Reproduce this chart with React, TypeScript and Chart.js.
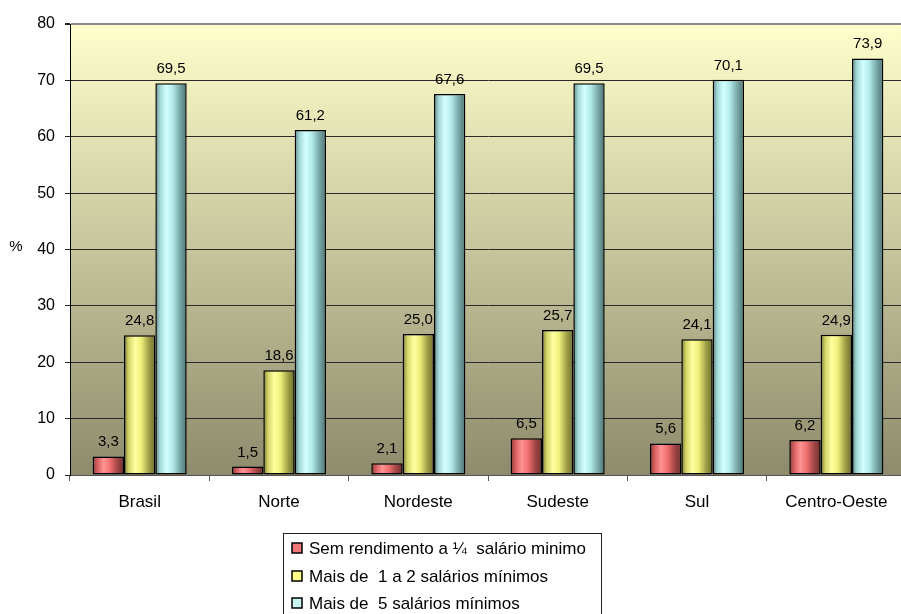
import React, { useEffect, useRef } from "react";
import { Chart, registerables } from "chart.js";

Chart.register(...registerables);

const categories = ["Brasil", "Norte", "Nordeste", "Sudeste", "Sul", "Centro-Oeste"];
const seriesNames = [
  "Sem rendimento a \u00BC  sal\u00E1rio minimo",
  "Mais de  1 a 2 sal\u00E1rios m\u00EDnimos",
  "Mais de  5 sal\u00E1rios m\u00EDnimos",
];
const semRendimento = [3.3, 1.5, 2.1, 6.5, 5.6, 6.2];
const umADois = [24.8, 18.6, 25.0, 25.7, 24.1, 24.9];
const maisDeCinco = [69.5, 61.2, 67.6, 69.5, 70.1, 73.9];

const legendColors = ["#f07878", "#ffff88", "#c8f4f4"];
const gradientStops = [
  ["#8a3838", "#d85e5e", "#ff9494", "#f07070", "#a04444", "#723030"],
  ["#7a7a36", "#d4d466", "#ffffa0", "#eeee7a", "#9c9c46", "#6e6e2c"],
  ["#5a8686", "#a4d8d8", "#d4ffff", "#b2eaea", "#76a4a4", "#4c7474"],
];

const FONT = "Arial, 'Liberation Sans', sans-serif";

const fmt = (v: number) => v.toFixed(1).replace(".", ",");

const paintPlugin = {
  id: "paint",
  beforeDraw(chart: any) {
    const { ctx, chartArea } = chart;
    const g = ctx.createLinearGradient(0, chartArea.top, 0, chartArea.bottom);
    g.addColorStop(0, "#ffffcc");
    g.addColorStop(1, "#8d8b6c");
    ctx.save();
    ctx.fillStyle = g;
    ctx.fillRect(chartArea.left, chartArea.top, chartArea.right - chartArea.left, chartArea.bottom - chartArea.top);
    ctx.restore();
  },
  beforeDatasetsDraw(chart: any) {
    const { ctx } = chart;
    chart.data.datasets.forEach((ds: any, di: number) => {
      const meta = chart.getDatasetMeta(di);
      meta.data.forEach((el: any) => {
        const w = el.width;
        const x0 = el.x - w / 2;
        const g = ctx.createLinearGradient(x0, 0, x0 + w, 0);
        const st = gradientStops[di];
        const pos = [0, 0.15, 0.35, 0.55, 0.8, 1];
        st.forEach((c, i) => g.addColorStop(pos[i], c));
        el.options = Object.assign({}, el.options, { backgroundColor: g });
      });
    });
  },
  afterDatasetsDraw(chart: any) {
    const { ctx } = chart;
    ctx.save();
    ctx.fillStyle = "#000";
    ctx.font = `15px ${FONT}`;
    ctx.textAlign = "center";
    ctx.textBaseline = "alphabetic";
    chart.data.datasets.forEach((ds: any, di: number) => {
      const meta = chart.getDatasetMeta(di);
      meta.data.forEach((el: any, i: number) => {
        ctx.fillText(fmt(ds.data[i]), el.x, el.y - 10);
      });
    });
    ctx.restore();
  },
  afterDraw(chart: any) {
    const { ctx } = chart;
    ctx.save();
    ctx.fillStyle = "#000";
    ctx.font = `15px ${FONT}`;
    ctx.textAlign = "center";
    ctx.textBaseline = "middle";
    ctx.fillText("%", 16, 247);
    // legend
    ctx.strokeStyle = "#222";
    ctx.lineWidth = 1;
    ctx.strokeRect(283.5, 533.5, 318, 100);
    const rows = [548, 576, 603];
    ctx.font = `17px ${FONT}`;
    ctx.textAlign = "left";
    seriesNames.forEach((name, i) => {
      const y = rows[i];
      ctx.fillStyle = legendColors[i];
      ctx.fillRect(292, y - 5, 10, 10);
      ctx.strokeStyle = "#000";
      ctx.lineWidth = 1.5;
      ctx.strokeRect(292, y - 5, 10, 10);
      ctx.fillStyle = "#000";
      ctx.fillText(name, 309, y + 1);
    });
    ctx.restore();
  },
};

export default function App() {
  const ref = useRef<HTMLCanvasElement | null>(null);
  useEffect(() => {
    if (!ref.current) return;
    const mk = (label: string, data: number[], color: string) => ({
      label,
      data,
      backgroundColor: color,
      borderColor: "#000",
      borderWidth: 1.5,
      borderSkipped: false as any,
      categoryPercentage: 0.675,
      barPercentage: 1,
    });
    const chart = new Chart(ref.current, {
      type: "bar",
      data: {
        labels: categories,
        datasets: [
          mk(seriesNames[0], semRendimento, legendColors[0]),
          mk(seriesNames[1], umADois, legendColors[1]),
          mk(seriesNames[2], maisDeCinco, legendColors[2]),
        ],
      },
      options: {
        responsive: false,
        animation: false,
        events: [],
        layout: { padding: { left: 0, right: 4, top: 24, bottom: 0 } },
        plugins: { legend: { display: false }, tooltip: { enabled: false }, title: { display: false } },
        scales: {
          x: {
            grid: { drawOnChartArea: false, drawTicks: true, tickLength: 6, color: "#555", offset: true },
            border: { display: true, color: "#555", width: 1 },
            ticks: { color: "#000", font: { family: FONT, size: 17 }, padding: 11 },
            afterFit(scale: any) {
              scale.height = 139;
            },
          },
          y: {
            min: 0,
            max: 80,
            ticks: { stepSize: 10, color: "#000", font: { family: FONT, size: 16 }, padding: 10 },
            grid: {
              color: (c: any) => (c.tick && c.tick.value === 80 ? "#8a8a8a" : "#2a2a2a"),
              lineWidth: (c: any) => (c.tick && c.tick.value === 80 ? 2 : 1),
              tickColor: "#222",
              tickLength: 5,
            },
            border: { display: true, color: "#000", width: 1 },
            afterFit(scale: any) {
              scale.width = 70;
            },
          },
        },
      },
      plugins: [paintPlugin],
    });
    return () => chart.destroy();
  }, []);
  return (
    <div style={{ position: "absolute", left: 0, top: 0, width: 901, height: 614, overflow: "hidden", background: "#fff" }}>
      <canvas ref={ref} width={910} height={614} style={{ display: "block" }} />
    </div>
  );
}
